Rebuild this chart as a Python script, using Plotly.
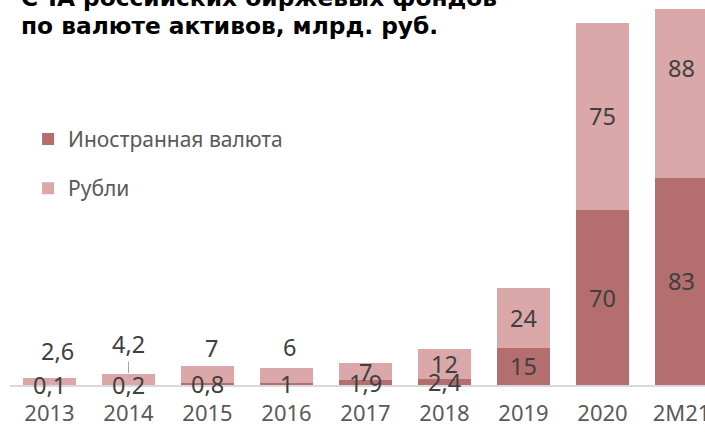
import plotly.graph_objects as go

categories = ["2013", "2014", "2015", "2016", "2017", "2018", "2019", "2020", "2M21"]
foreign = [0.1, 0.2, 0.8, 1, 1.9, 2.4, 15, 70, 83]
rubles = [2.6, 4.2, 7, 6, 7, 12, 24, 75, 88]
series_names = ["Иностранная валюта", "Рубли"]
title_lines = ["СЧА российских биржевых фондов", "по валюте активов, млрд. руб."]

DARK = "#B46E6E"
LIGHT = "#DAA8A8"
LABEL_COLOR = "#404040"
TICK_COLOR = "#595959"
FONT = "Noto Sans"


def fmt(v):
    if float(v).is_integer():
        return str(int(v))
    return str(v).replace(".", ",")


fig = go.Figure()
fig.add_trace(go.Bar(x=categories, y=foreign, name=series_names[0],
                     marker=dict(color=DARK, line=dict(width=0)),
                     legendgroup="a"))
fig.add_trace(go.Bar(x=categories, y=rubles, name=series_names[1],
                     marker=dict(color=LIGHT, line=dict(width=0)),
                     legendgroup="b"))

annotations = []
lab_font = dict(family=FONT, size=23.5, color=LABEL_COLOR)
# label offsets for small bars (styling only)
above_ax = [8, 0, 4, 3]
above_ay = [-27, -30, -18, -21]
for i, (c, f, r) in enumerate(zip(categories, foreign, rubles)):
    annotations.append(dict(x=i, y=f / 2, xref="x", yref="y", text=fmt(f),
                            showarrow=False, font=lab_font))
    total = f + r
    if total > 8:
        annotations.append(dict(x=i, y=f + r / 2, xref="x", yref="y", text=fmt(r),
                                showarrow=False, font=lab_font))
    else:
        annotations.append(dict(x=i, y=total, xref="x", yref="y", text=fmt(r),
                                showarrow=True, arrowhead=0, arrowwidth=1,
                                arrowcolor="#A6A6A6" if i == 1 else "rgba(0,0,0,0)",
                                ax=above_ax[i], ay=above_ay[i], standoff=1,
                                font=lab_font))

title_font = dict(family="DejaVu Sans", size=23.3, color="#000000")
for line, ypos in zip(title_lines, [1.0309, 0.9574]):
    annotations.append(dict(x=9 / 695, y=ypos, xref="paper", yref="paper",
                            xanchor="left", yanchor="middle", align="left",
                            text="<b>" + line + "</b>", showarrow=False,
                            font=title_font))

fig.update_layout(
    width=705, height=432,
    margin=dict(l=10, r=0, t=9, b=47, autoexpand=False),
    paper_bgcolor="white", plot_bgcolor="white",
    barmode="stack", bargap=0.33,
    font=dict(family=FONT, color=TICK_COLOR),
    xaxis=dict(type="category", range=[-0.5, 8.297], showline=True,
               linecolor="#D9D9D9", linewidth=1.5, ticks="", showgrid=False,
               automargin=False,
               tickfont=dict(family=FONT, size=22, color=TICK_COLOR),
               ticklabelstandoff=8),
    yaxis=dict(range=[0, 150.4], visible=False, automargin=False),
    legend=dict(x=0.026, y=0.708, xanchor="left", yanchor="top",
                traceorder="grouped", tracegroupgap=19,
                font=dict(family=FONT, size=21, color=TICK_COLOR),
                bgcolor="rgba(0,0,0,0)"),
    annotations=annotations,
)

fig.write_html("out.html", config={"displayModeBar": False},
               post_script="document.body.style.margin='0';")
